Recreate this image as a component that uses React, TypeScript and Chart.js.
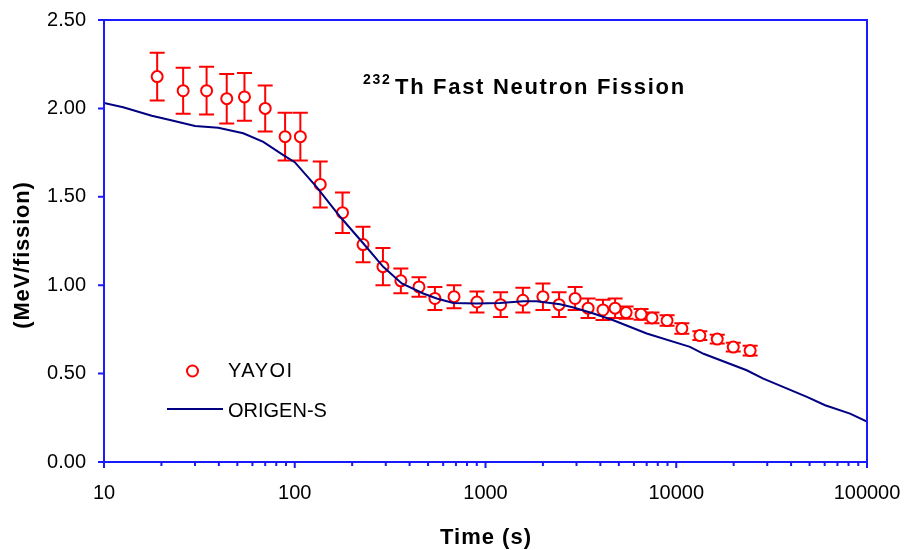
import React, { useEffect, useRef } from 'react';
import { Chart, registerables } from 'chart.js';

Chart.register(...registerables);

// YAYOI measured points
const yayoiTime = [19, 26, 34.5, 44, 54.5, 70, 89, 107, 136, 178, 228, 290, 360, 448, 543, 684, 902, 1200, 1570, 2000, 2430, 2950, 3450, 4130, 4780, 5460, 6540, 7460, 8950, 10700, 13300, 16400, 19900, 24400];
const yayoiHeat = [2.18, 2.10, 2.10, 2.055, 2.065, 2.00, 1.84, 1.84, 1.57, 1.41, 1.23, 1.105, 1.025, 0.99, 0.925, 0.935, 0.905, 0.89, 0.915, 0.935, 0.89, 0.925, 0.87, 0.86, 0.87, 0.845, 0.835, 0.815, 0.80, 0.755, 0.715, 0.695, 0.65, 0.63];
const yayoiErr = [0.135, 0.13, 0.135, 0.14, 0.135, 0.13, 0.135, 0.135, 0.13, 0.115, 0.10, 0.105, 0.07, 0.055, 0.065, 0.065, 0.06, 0.07, 0.07, 0.075, 0.07, 0.065, 0.055, 0.057, 0.055, 0.035, 0.03, 0.03, 0.03, 0.03, 0.025, 0.025, 0.025, 0.028];

// ORIGEN-S calculation
const origenTime = [10, 12.6, 17.8, 22.2, 30, 39.7, 53.7, 68.4, 87.1, 100, 130, 173, 229, 291, 364, 472, 555, 678, 900, 1190, 1580, 1850, 2460, 2890, 3680, 4680, 7000, 11800, 13900, 23400, 28600, 48400, 60300, 81500, 100000];
const origenHeat = [2.03, 2.006, 1.958, 1.934, 1.90, 1.89, 1.859, 1.811, 1.736, 1.696, 1.556, 1.387, 1.236, 1.104, 1.01, 0.953, 0.925, 0.90, 0.896, 0.90, 0.909, 0.909, 0.892, 0.874, 0.84, 0.802, 0.727, 0.651, 0.612, 0.519, 0.472, 0.368, 0.321, 0.274, 0.228];

const yTicks = [0, 0.5, 1.0, 1.5, 2.0, 2.5];
const xDecades = [10, 100, 1000, 10000, 100000];

const titleSup = '232';
const titleMain = 'Th Fast Neutron Fission';
const xTitle = 'Time (s)';
const yTitle = '(MeV/fission)';
const legendLabels = ['YAYOI', 'ORIGEN-S'];

const FONT = "'Liberation Sans', Arial, Helvetica, sans-serif";
const AXIS_BLUE = '#1a1aff';
const RED = '#ff0000';
const NAVY = '#000080';

const decorPlugin = {
  id: 'decor',
  beforeDatasetsDraw(chart: any) {
    const ctx = chart.ctx;
    const xs = chart.scales.x;
    const ys = chart.scales.y;
    ctx.save();
    ctx.strokeStyle = RED;
    ctx.lineWidth = 2;
    yayoiTime.forEach((t, i) => {
      const x = xs.getPixelForValue(t);
      const y1 = ys.getPixelForValue(yayoiHeat[i] + yayoiErr[i]);
      const y2 = ys.getPixelForValue(yayoiHeat[i] - yayoiErr[i]);
      ctx.beginPath();
      ctx.moveTo(x, y1);
      ctx.lineTo(x, y2);
      ctx.moveTo(x - 7.5, y1);
      ctx.lineTo(x + 7.5, y1);
      ctx.moveTo(x - 7.5, y2);
      ctx.lineTo(x + 7.5, y2);
      ctx.stroke();
    });
    ctx.restore();
  },
  afterDraw(chart: any) {
    const ctx = chart.ctx;
    const { left, right, top, bottom } = chart.chartArea;
    const xs = chart.scales.x;
    const ys = chart.scales.y;
    ctx.save();
    // frame
    ctx.strokeStyle = AXIS_BLUE;
    ctx.lineWidth = 2;
    ctx.strokeRect(left, top, right - left, bottom - top);
    // y ticks
    ctx.beginPath();
    yTicks.forEach((v) => {
      const y = ys.getPixelForValue(v);
      ctx.moveTo(left - 6, y);
      ctx.lineTo(left, y);
    });
    // x ticks (major + minor)
    xDecades.forEach((d) => {
      for (let m = 1; m <= 9; m++) {
        const v = d * m;
        if (v > 100000) break;
        const x = xs.getPixelForValue(v);
        ctx.moveTo(x, bottom);
        ctx.lineTo(x, bottom + (m === 1 ? 6 : 4));
      }
    });
    ctx.stroke();

    ctx.fillStyle = '#000';
    // chart title
    ctx.textAlign = 'left';
    ctx.textBaseline = 'alphabetic';
    ctx.font = `bold 14px ${FONT}`;
    (ctx as any).letterSpacing = '1.7px';
    ctx.fillText(titleSup, 363, 83.5);
    ctx.font = `bold 22px ${FONT}`;
    (ctx as any).letterSpacing = '1.7px';
    ctx.fillText(titleMain, 395, 93.5);

    // x title
    ctx.textAlign = 'center';
    ctx.font = `bold 22px ${FONT}`;
    (ctx as any).letterSpacing = '1px';
    ctx.fillText(xTitle, 486, 543.5);

    // y title
    ctx.save();
    ctx.translate(23, 255);
    ctx.rotate(-Math.PI / 2);
    ctx.textAlign = 'center';
    ctx.textBaseline = 'middle';
    ctx.font = `bold 22px ${FONT}`;
    (ctx as any).letterSpacing = '0.8px';
    ctx.fillText(yTitle, 0, 0);
    ctx.restore();

    // legend
    (ctx as any).letterSpacing = '0px';
    ctx.beginPath();
    ctx.arc(192.5, 371, 5.5, 0, Math.PI * 2);
    ctx.fillStyle = '#fff';
    ctx.fill();
    ctx.strokeStyle = RED;
    ctx.lineWidth = 2;
    ctx.stroke();
    ctx.beginPath();
    ctx.moveTo(167, 409);
    ctx.lineTo(223, 409);
    ctx.strokeStyle = NAVY;
    ctx.lineWidth = 2;
    ctx.stroke();
    ctx.fillStyle = '#000';
    ctx.textAlign = 'left';
    ctx.textBaseline = 'alphabetic';
    ctx.font = `20px ${FONT}`;
    (ctx as any).letterSpacing = '1.5px';
    ctx.fillText(legendLabels[0], 228, 377);
    (ctx as any).letterSpacing = '0px';
    ctx.fillText(legendLabels[1], 228, 416.5);
    ctx.restore();
  },
};

export default function App() {
  const ref = useRef<HTMLCanvasElement>(null);
  useEffect(() => {
    if (!ref.current) return;
    const chart = new Chart(ref.current, {
      type: 'line',
      data: {
        datasets: [
          {
            type: 'line',
            label: legendLabels[1],
            data: origenTime.map((t, i) => ({ x: t, y: origenHeat[i] })),
            borderColor: NAVY,
            borderWidth: 2,
            pointRadius: 0,
            tension: 0,
            fill: false,
            order: 0,
          },
          {
            type: 'scatter',
            label: legendLabels[0],
            data: yayoiTime.map((t, i) => ({ x: t, y: yayoiHeat[i] })),
            borderColor: RED,
            backgroundColor: '#ffffff',
            borderWidth: 2,
            pointRadius: 5.5,
            pointStyle: 'circle',
            showLine: false,
            order: 1,
          },
        ],
      } as any,
      options: {
        responsive: false,
        devicePixelRatio: 1,
        animation: false,
        layout: { padding: { left: 0, top: 20, right: 40, bottom: 0 } },
        plugins: {
          legend: { display: false },
          tooltip: { enabled: false },
          title: { display: false },
        },
        scales: {
          x: {
            type: 'logarithmic',
            min: 10,
            max: 100000,
            grid: { display: false },
            border: { display: false },
            afterFit: (s: any) => { s.height = 88; s.paddingLeft = 0; s.paddingRight = 0; },
            ticks: {
              autoSkip: false,
              maxRotation: 0,
              minRotation: 0,
              padding: 11,
              color: '#000',
              font: { size: 20, family: FONT },
              callback: (v: any) => {
                const n = Number(v);
                return xDecades.some((d) => Math.abs(d - n) < 1e-6 * d) ? String(Math.round(n)) : '';
              },
            },
          },
          y: {
            type: 'linear',
            min: 0,
            max: 2.5,
            grid: { display: false },
            border: { display: false },
            afterFit: (s: any) => { s.width = 104; s.paddingTop = 0; s.paddingBottom = 0; },
            ticks: {
              stepSize: 0.5,
              padding: 10,
              color: '#000',
              font: { size: 20, family: FONT },
              callback: (v: any) => Number(v).toFixed(2),
            },
          },
        },
      } as any,
      plugins: [decorPlugin],
    });
    return () => chart.destroy();
  }, []);
  return (
    <div style={{ position: 'absolute', left: 0, top: 0, width: 907, height: 550, background: '#fff' }}>
      <canvas ref={ref} width={907} height={550} style={{ width: 907, height: 550, display: 'block' }} />
    </div>
  );
}
